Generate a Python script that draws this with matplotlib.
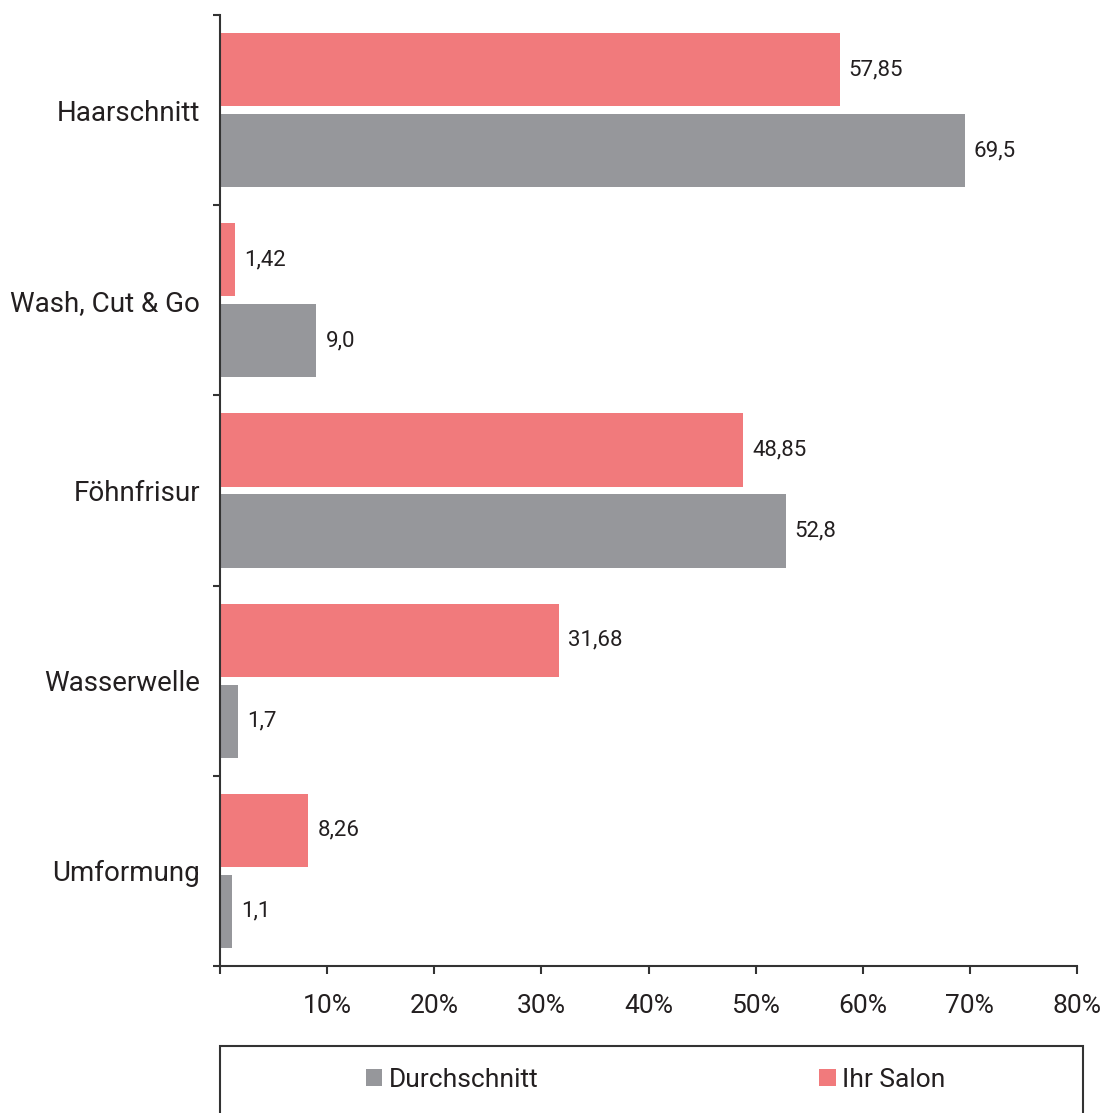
import matplotlib
matplotlib.use("Agg")
import matplotlib.pyplot as plt
from matplotlib.patches import Rectangle
import numpy as np

plt.rcParams['font.family'] = ['Roboto', 'DejaVu Sans']

categories = ["Haarschnitt", "Wash, Cut & Go", "Föhnfrisur", "Wasserwelle", "Umformung"]
salon_values = [57.85, 1.42, 48.85, 31.68, 8.26]
salon_labels = ["57,85", "1,42", "48,85", "31,68", "8,26"]
avg_values = [69.5, 9.0, 52.8, 1.7, 1.1]
avg_labels = ["69,5", "9,0", "52,8", "1,7", "1,1"]
x_ticks = [0, 10, 20, 30, 40, 50, 60, 70, 80]
x_tick_labels = ["", "10%", "20%", "30%", "40%", "50%", "60%", "70%", "80%"]

salon_color = "#F17A7C"
avg_color = "#96979B"
text_color = "#231F20"
axis_color = "#333333"

W, H = 1103, 1113
fig = plt.figure(figsize=(W / 100, H / 100), dpi=100)
ax = fig.add_axes([220 / W, 1 - 966 / H, (1077 - 220) / W, (966 - 15) / H])

y = np.arange(len(categories))
offset = 0.213
height = 0.385
bars_salon = ax.barh(y - offset, salon_values, height=height, color=salon_color, label="Ihr Salon")
bars_avg = ax.barh(y + offset, avg_values, height=height, color=avg_color, label="Durchschnitt")

for bars, labels in ((bars_salon, salon_labels), (bars_avg, avg_labels)):
    ax.bar_label(bars, labels=labels, padding=6.5, fontsize=16, color=text_color)

ax.set_xlim(0, 80)
ax.set_ylim(len(categories) - 0.5, -0.5)

ax.set_xticks(x_ticks)
ax.set_xticklabels(x_tick_labels)
ax.tick_params(axis='x', direction='out', length=6, width=1.5, color=axis_color,
               labelsize=19, labelcolor=text_color, pad=14)

ax.set_yticks(np.arange(len(categories) + 1) - 0.5)
ax.set_yticklabels([])
ax.set_yticks(y, minor=True)
ax.set_yticklabels(categories, minor=True)
ax.tick_params(axis='y', which='major', direction='out', length=5, width=1.5, color=axis_color)
ax.tick_params(axis='y', which='minor', length=0, pad=14.4, labelsize=20, labelcolor=text_color)
for lbl in ax.get_yticklabels(minor=True):
    lbl.set_y(lbl.get_position()[1])
    lbl.set_verticalalignment("center_baseline")

for side in ("top", "right"):
    ax.spines[side].set_visible(False)
for side in ("left", "bottom"):
    ax.spines[side].set_color(axis_color)
    ax.spines[side].set_linewidth(1.5)

# Legend frame running off the lower edge
fig.patches.append(Rectangle((220 / W, -0.05), (1083 - 220) / W, 0.05 + (1 - 1046 / H),
                             transform=fig.transFigure, fill=False,
                             edgecolor=axis_color, linewidth=1.5, clip_on=False))

leg = fig.legend(handles=[bars_avg, bars_salon], labels=["Durchschnitt", "Ihr Salon"],
                 loc="center left", bbox_to_anchor=(366 / W, 1 - 1080 / H), ncol=2,
                 frameon=False, fontsize=19, handlelength=0.62, handleheight=0.62,
                 handletextpad=0.25, columnspacing=10.63, borderpad=0, borderaxespad=0)
for t in leg.get_texts():
    t.set_color(text_color)

fig.savefig("out.png", dpi=100)
